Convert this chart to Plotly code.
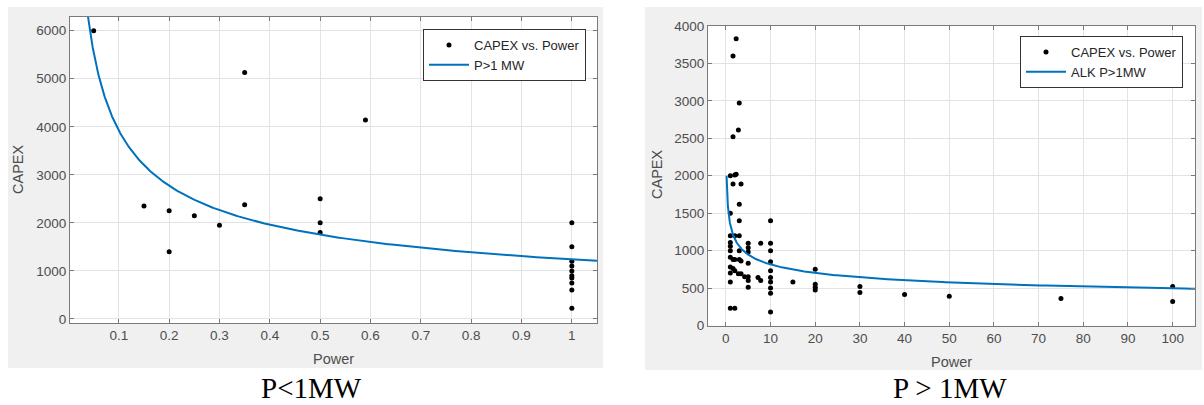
import numpy as np
import plotly.graph_objects as go

# ---- data: small installations (P < 1 MW) ----
small_power = [0.05, 0.15, 0.2, 0.2, 0.25, 0.3, 0.35, 0.35, 0.5, 0.5, 0.5, 0.59,
               1, 1, 1, 1, 1, 1, 1, 1, 1, 1]
small_capex = [6000, 2350, 2250, 1400, 2150, 1950, 2375, 5130, 2500, 2000, 1800, 4140,
               2000, 1500, 1200, 1100, 1000, 900, 850, 750, 600, 220]

# ---- data: large installations (P > 1 MW) ----
large_power = [1, 1, 1, 1, 1, 1, 1, 1, 1, 1, 1,
               1.6, 1.6, 1.6, 1.6, 1.6,
               2, 2, 2, 2, 2,
               2.3, 2.3,
               2.8, 2.8,
               3, 3, 3, 3, 3, 3,
               3.4, 3.4, 3.4,
               4.2,
               5, 5, 5, 5, 5, 5, 5,
               7.2, 7.8, 7.8,
               10, 10, 10, 10, 10, 10, 10, 10, 10, 10,
               15, 20, 20, 20, 20, 30, 30, 40, 50, 75, 100, 100]
large_capex = [2000, 1500, 1200, 1110, 1060, 1000, 910, 780, 700, 580, 230,
               3600, 2520, 1890, 880, 760,
               2010, 1200, 880, 730, 230,
               3830, 2020,
               2610, 690,
               2970, 1620, 1400, 1200, 1000, 880,
               1890, 860, 690,
               650,
               1100, 1040, 980, 830, 650, 600, 510,
               640, 1100, 600,
               1400, 1100, 1000, 850, 730, 640, 580, 500, 430, 180,
               580, 750, 550, 510, 475, 520, 440, 415, 390, 360, 520, 320]

# power-law fits  CAPEX = a * P^b
small_fit_a, small_fit_b = 1240.0, -0.5
large_fit_a, large_fit_b = 1340.0, -0.216

x_small_fit = np.geomspace(0.03, 1.06, 300)
y_small_fit = small_fit_a * x_small_fit ** small_fit_b
x_large_fit = np.geomspace(0.157, 106, 400)
y_large_fit = large_fit_a * x_large_fit ** large_fit_b

W, H = 1204, 405
BLUE = "#0072BD"
TXT = "#4d4d4d"
AXC = "#7a7a7a"
GRID = "#e3e3e3"
FONT = "Liberation Sans, Arial, sans-serif"

# plot-area boxes in pixels: (left, top, right, bottom)
LEFT_BOX = (70, 17, 597, 323)
RIGHT_BOX = (708, 26, 1195, 325.5)


def px_x(v):
    return v / W


def px_y(v):
    return 1 - v / H


fig = go.Figure()

fig.add_trace(go.Scatter(x=small_power, y=small_capex, mode="markers",
                         marker=dict(color="black", size=5),
                         name="CAPEX vs. Power", xaxis="x", yaxis="y",
                         legend="legend"))
fig.add_trace(go.Scatter(x=x_small_fit, y=y_small_fit, mode="lines",
                         line=dict(color=BLUE, width=2),
                         name="P>1 MW", xaxis="x", yaxis="y", legend="legend"))
fig.add_trace(go.Scatter(x=large_power, y=large_capex, mode="markers",
                         marker=dict(color="black", size=5),
                         name="CAPEX vs. Power", xaxis="x2", yaxis="y2",
                         legend="legend2"))
fig.add_trace(go.Scatter(x=x_large_fit, y=y_large_fit, mode="lines",
                         line=dict(color=BLUE, width=2),
                         name="ALK P>1MW", xaxis="x2", yaxis="y2",
                         legend="legend2"))

axis_common = dict(showgrid=True, gridcolor=GRID, gridwidth=1, zeroline=False,
                   showline=True, linecolor=AXC, linewidth=1, mirror="ticks",
                   ticks="inside", ticklen=4, tickcolor=AXC, automargin=False,
                   tickfont=dict(family=FONT, size=13.5, color=TXT))

fig.update_layout(
    xaxis=dict(domain=[px_x(LEFT_BOX[0]), px_x(LEFT_BOX[2])], range=[0.003, 1.05],
               tickvals=[0.1, 0.2, 0.3, 0.4, 0.5, 0.6, 0.7, 0.8, 0.9, 1],
               ticktext=["0.1", "0.2", "0.3", "0.4", "0.5", "0.6", "0.7", "0.8", "0.9", "1"],
               anchor="y", **axis_common),
    yaxis=dict(domain=[px_y(LEFT_BOX[3]), px_y(LEFT_BOX[1])], range=[-85, 6285],
               tickvals=[0, 1000, 2000, 3000, 4000, 5000, 6000],
               anchor="x", **axis_common),
    xaxis2=dict(domain=[px_x(RIGHT_BOX[0]), px_x(RIGHT_BOX[2])], range=[-4, 105],
                tickvals=list(range(0, 101, 10)), anchor="y2", **axis_common),
    yaxis2=dict(domain=[px_y(RIGHT_BOX[3]), px_y(RIGHT_BOX[1])], range=[0, 4000],
                tickvals=list(range(0, 4001, 500)), anchor="x2", **axis_common),
)

legend_common = dict(bgcolor="white", bordercolor="#333333", borderwidth=1,
                     font=dict(family=FONT, size=13, color="#262626"),
                     xanchor="right", yanchor="top", itemwidth=40,
                     tracegroupgap=0)
fig.update_layout(
    legend=dict(x=px_x(586), y=px_y(29), **legend_common),
    legend2=dict(x=px_x(1183), y=px_y(36), **legend_common),
)

# grey figure panels, then white axes areas on top of them
for x0, y0, x1, y1, col in ((8, 7, 603, 368, "#f0f0f0"),
                            (645, 7, 1202, 370, "#f0f0f0"),
                            (*LEFT_BOX, "white"),
                            (*RIGHT_BOX, "white")):
    fig.add_shape(type="rect", xref="paper", yref="paper", layer="below",
                  x0=px_x(x0), x1=px_x(x1), y0=px_y(y1), y1=px_y(y0),
                  fillcolor=col, line=dict(width=0))

annotations = [
    dict(text="Power", x=px_x(333), y=px_y(359), font=dict(size=14.5)),
    dict(text="CAPEX", x=px_x(18), y=px_y(170), textangle=-90, font=dict(size=14.5)),
    dict(text="Power", x=px_x(951), y=px_y(362), font=dict(size=14.5)),
    dict(text="CAPEX", x=px_x(657), y=px_y(175), textangle=-90, font=dict(size=14.5)),
]
for a in annotations:
    a.update(xref="paper", yref="paper", showarrow=False,
             xanchor="center", yanchor="middle")
    a["font"].update(family=FONT, color=TXT)
for text, cx in (("P<1MW", 311), ("P > 1MW", 950)):
    annotations.append(dict(text=text, x=px_x(cx), y=px_y(388), xref="paper",
                            yref="paper", showarrow=False, xanchor="center",
                            yanchor="middle",
                            font=dict(family="Liberation Serif, Times New Roman, serif",
                                      size=29, color="black")))

fig.update_layout(
    width=W, height=H, margin=dict(l=0, r=0, t=0, b=0, autoexpand=False),
    paper_bgcolor="white", plot_bgcolor="rgba(0,0,0,0)",
    annotations=annotations,
)

fig.write_html("out.html")
